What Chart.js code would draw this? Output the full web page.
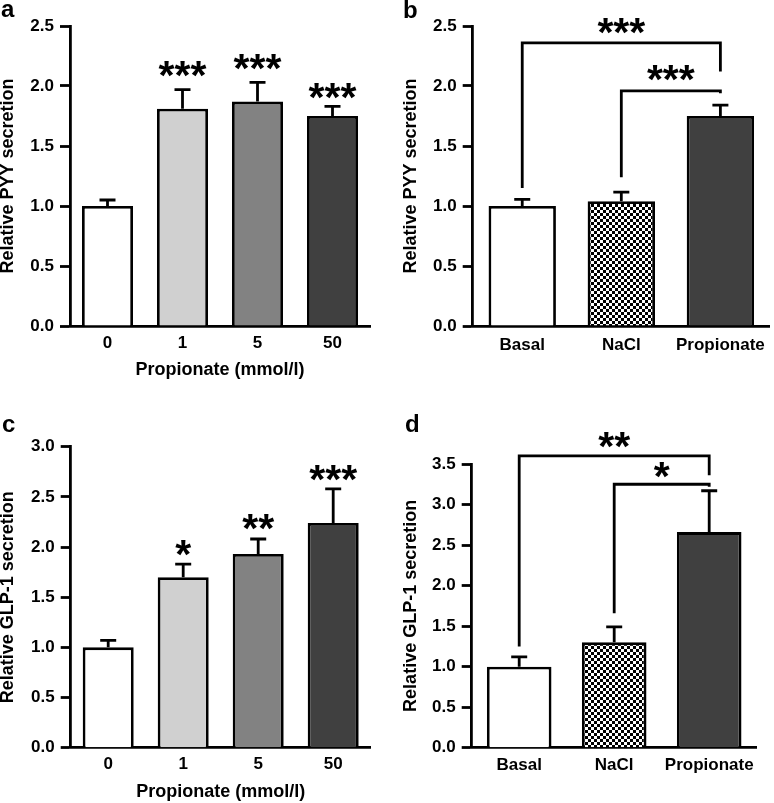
<!DOCTYPE html>
<html><head><meta charset="utf-8">
<script src="https://cdn.jsdelivr.net/npm/chart.js@4/dist/chart.umd.min.js"></script>
<style>
html,body{margin:0;padding:0;background:#fff;}
body{width:774px;height:803px;position:relative;overflow:hidden;}
canvas{position:absolute;}
</style></head><body>
<canvas id="ca" style="left:0px;top:0px;width:387px;height:400px" width="387" height="400"></canvas>
<canvas id="cb" style="left:387px;top:0px;width:387px;height:400px" width="387" height="400"></canvas>
<canvas id="cc" style="left:0px;top:400px;width:387px;height:403px" width="387" height="403"></canvas>
<canvas id="cd" style="left:387px;top:400px;width:387px;height:403px" width="387" height="403"></canvas>
<script>
// ---------- data ----------
const doseLabels = ['0', '1', '5', '50'];
const groupLabels = ['Basal', 'NaCl', 'Propionate'];

const pyyDoseMean = [1.00, 1.81, 1.87, 1.75];
const pyyDoseSem  = [0.05, 0.16, 0.16, 0.08];
const pyyDoseSig  = ['', '***', '***', '***'];
const pyyDoseSigY = [null, 2.14, 2.20, 1.96];

const pyyGroupMean = [1.00, 1.04, 1.75];
const pyyGroupSem  = [0.055, 0.075, 0.09];
const pyyBrFrom  = [0, 1];
const pyyBrTo    = [2, 2];
const pyyBrTop   = [2.36, 1.96];
const pyyBrLeft  = [1.15, 1.24];
const pyyBrRight = [2.12, 1.94];
const pyyBrSig   = ['***', '***'];
const pyyBrSigY  = [2.50, 2.11];

const glpDoseMean = [1.00, 1.70, 1.93, 2.24];
const glpDoseSem  = [0.07, 0.13, 0.15, 0.34];
const glpDoseSig  = ['', '*', '**', '***'];
const glpDoseSigY = [null, 1.99, 2.25, 2.74];

const glpGroupMean = [1.00, 1.30, 2.66];
const glpGroupSem  = [0.12, 0.19, 0.51];
const glpBrFrom  = [0, 1];
const glpBrTo    = [2, 2];
const glpBrTop   = [3.60, 3.25];
const glpBrLeft  = [1.25, 1.66];
const glpBrRight = [3.36, 3.22];
const glpBrSig   = ['**', '*'];
const glpBrSigY  = [3.80, 3.42];

// ---------- styling ----------
const FONT = '"Liberation Sans", Arial, Helvetica, sans-serif';
Chart.defaults.font.family = FONT;
Chart.defaults.color = '#000';
const LW = 2.8;

function checker() {
  const c = document.createElement('canvas');
  c.width = 6; c.height = 6;
  const g = c.getContext('2d');
  g.fillStyle = '#fff'; g.fillRect(0, 0, 6, 6);
  g.fillStyle = '#000'; g.fillRect(0, 0, 3, 3); g.fillRect(3, 3, 3, 3);
  return g.createPattern(c, 'repeat');
}
const doseColors = ['#ffffff', '#d0d0d0', '#828282', '#404040'];
const groupColors = ['#ffffff', checker(), '#404040'];

function drawStars(ctx, text, x, yc) {
  ctx.font = 'bold 41px ' + FONT;
  ctx.textAlign = 'center';
  ctx.textBaseline = 'alphabetic';
  const m = ctx.measureText('*');
  const base = yc + (m.actualBoundingBoxAscent - m.actualBoundingBoxDescent) / 2;
  ctx.fillStyle = '#000';
  ctx.fillText(text, x, base);
}

const annotPlugin = {
  id: 'annot',
  afterDraw(chart, args, o) {
    const ctx = chart.ctx, ys = chart.scales.y, meta = chart.getDatasetMeta(0);
    ctx.save();
    ctx.strokeStyle = '#000';
    ctx.lineWidth = LW;
    ctx.lineCap = 'butt';
    ctx.lineJoin = 'miter';
    // error bars (upper SEM)
    o.mean.forEach((m, i) => {
      const x = meta.data[i].x;
      const y0 = ys.getPixelForValue(m);
      const y1 = ys.getPixelForValue(m + o.sem[i]);
      ctx.beginPath();
      ctx.moveTo(x, y0); ctx.lineTo(x, y1);
      ctx.moveTo(x - 8, y1); ctx.lineTo(x + 8, y1);
      ctx.stroke();
    });
    // per-bar significance
    if (o.sig) {
      o.sig.forEach((s, i) => {
        if (!s) return;
        drawStars(ctx, s, meta.data[i].x, ys.getPixelForValue(o.sigY[i]));
      });
    }
    // brackets
    if (o.brFrom) {
      o.brFrom.forEach((f, k) => {
        const x0 = meta.data[f].x, x1 = meta.data[o.brTo[k]].x;
        const yt = ys.getPixelForValue(o.brTop[k]);
        ctx.beginPath();
        ctx.moveTo(x0, ys.getPixelForValue(o.brLeft[k]));
        ctx.lineTo(x0, yt);
        ctx.lineTo(x1, yt);
        ctx.lineTo(x1, ys.getPixelForValue(o.brRight[k]));
        ctx.stroke();
        drawStars(ctx, o.brSig[k], (x0 + x1) / 2, ys.getPixelForValue(o.brSigY[k]));
      });
    }
    // panel letter
    ctx.font = 'bold 24px ' + FONT;
    ctx.textAlign = 'left';
    ctx.textBaseline = 'alphabetic';
    ctx.fillStyle = '#000';
    ctx.fillText(o.letter, o.lx, o.ly);
    ctx.restore();
  }
};

function makeChart(id, c) {
  return new Chart(document.getElementById(id), {
    type: 'bar',
    data: {
      labels: c.labels,
      datasets: [{
        data: c.mean,
        backgroundColor: c.colors,
        borderColor: '#000',
        borderWidth: LW,
        borderSkipped: 'start',
        barPercentage: 0.68,
        categoryPercentage: 1.0
      }]
    },
    options: {
      responsive: false,
      animation: false,
      events: [],
      layout: { padding: { left: 0, top: c.top, right: c.right, bottom: 0 } },
      plugins: {
        legend: { display: false },
        tooltip: { enabled: false },
        annot: c.annot
      },
      scales: {
        x: {
          grid: { display: false, drawTicks: false },
          border: { display: true, color: '#000', width: LW },
          ticks: { color: '#000', padding: c.xPad, font: { size: 17, weight: 'bold' } },
          title: {
            display: !!c.xTitle, text: c.xTitle || '', color: '#000',
            font: { size: 18, weight: 'bold' }, padding: { top: 0, bottom: c.xTitlePad }
          },
          afterFit: s => { s.height = c.xH; }
        },
        y: {
          min: 0, max: c.max,
          grid: { drawOnChartArea: false, drawTicks: true, tickLength: 10, tickColor: '#000', tickWidth: LW },
          border: { display: true, color: '#000', width: LW },
          ticks: {
            stepSize: 0.5, color: '#000', padding: 6,
            font: { size: 17, weight: 'bold' },
            callback: v => Number(v).toFixed(1)
          },
          title: {
            display: true, text: c.yTitle, color: '#000',
            font: { size: 18, weight: 'bold', lineHeight: 1 }, padding: { top: c.yTitlePad, bottom: 0 }
          },
          afterFit: s => { s.width = c.yW; }
        }
      }
    },
    plugins: [annotPlugin]
  });
}

makeChart('ca', {
  labels: doseLabels, mean: pyyDoseMean, colors: doseColors, max: 2.5,
  top: 26, right: 17, yW: 70, xH: 74, xPad: 7, xTitlePad: 19, yTitlePad: -1,
  xTitle: 'Propionate (mmol/l)', yTitle: 'Relative PYY secretion',
  annot: { mean: pyyDoseMean, sem: pyyDoseSem, sig: pyyDoseSig, sigY: pyyDoseSigY, letter: 'a', lx: 1, ly: 17 }
});
makeChart('cb', {
  labels: groupLabels, mean: pyyGroupMean, colors: groupColors, max: 2.5,
  top: 26, right: 1.3, yW: 85.7, xH: 74, xPad: 9, xTitlePad: 0, yTitlePad: 15,
  xTitle: '', yTitle: 'Relative PYY secretion',
  annot: { mean: pyyGroupMean, sem: pyyGroupSem, brFrom: pyyBrFrom, brTo: pyyBrTo, brTop: pyyBrTop,
           brLeft: pyyBrLeft, brRight: pyyBrRight, brSig: pyyBrSig, brSigY: pyyBrSigY, letter: 'b', lx: 16, ly: 18 }
});
makeChart('cc', {
  labels: doseLabels, mean: glpDoseMean, colors: doseColors, max: 3.0,
  top: 46.7, right: 16.3, yW: 70.7, xH: 55.3, xPad: 6, xTitlePad: 0, yTitlePad: -1,
  xTitle: 'Propionate (mmol/l)', yTitle: 'Relative GLP-1 secretion',
  annot: { mean: glpDoseMean, sem: glpDoseSem, sig: glpDoseSig, sigY: glpDoseSigY, letter: 'c', lx: 2, ly: 31.7 }
});
makeChart('cd', {
  labels: groupLabels, mean: glpGroupMean, colors: groupColors, max: 3.5,
  top: 64, right: 17.3, yW: 84.7, xH: 55.3, xPad: 7, xTitlePad: 0, yTitlePad: 15,
  xTitle: '', yTitle: 'Relative GLP-1 secretion',
  annot: { mean: glpGroupMean, sem: glpGroupSem, brFrom: glpBrFrom, brTo: glpBrTo, brTop: glpBrTop,
           brLeft: glpBrLeft, brRight: glpBrRight, brSig: glpBrSig, brSigY: glpBrSigY, letter: 'd', lx: 18, ly: 31.7 }
});
</script>
</body></html>
